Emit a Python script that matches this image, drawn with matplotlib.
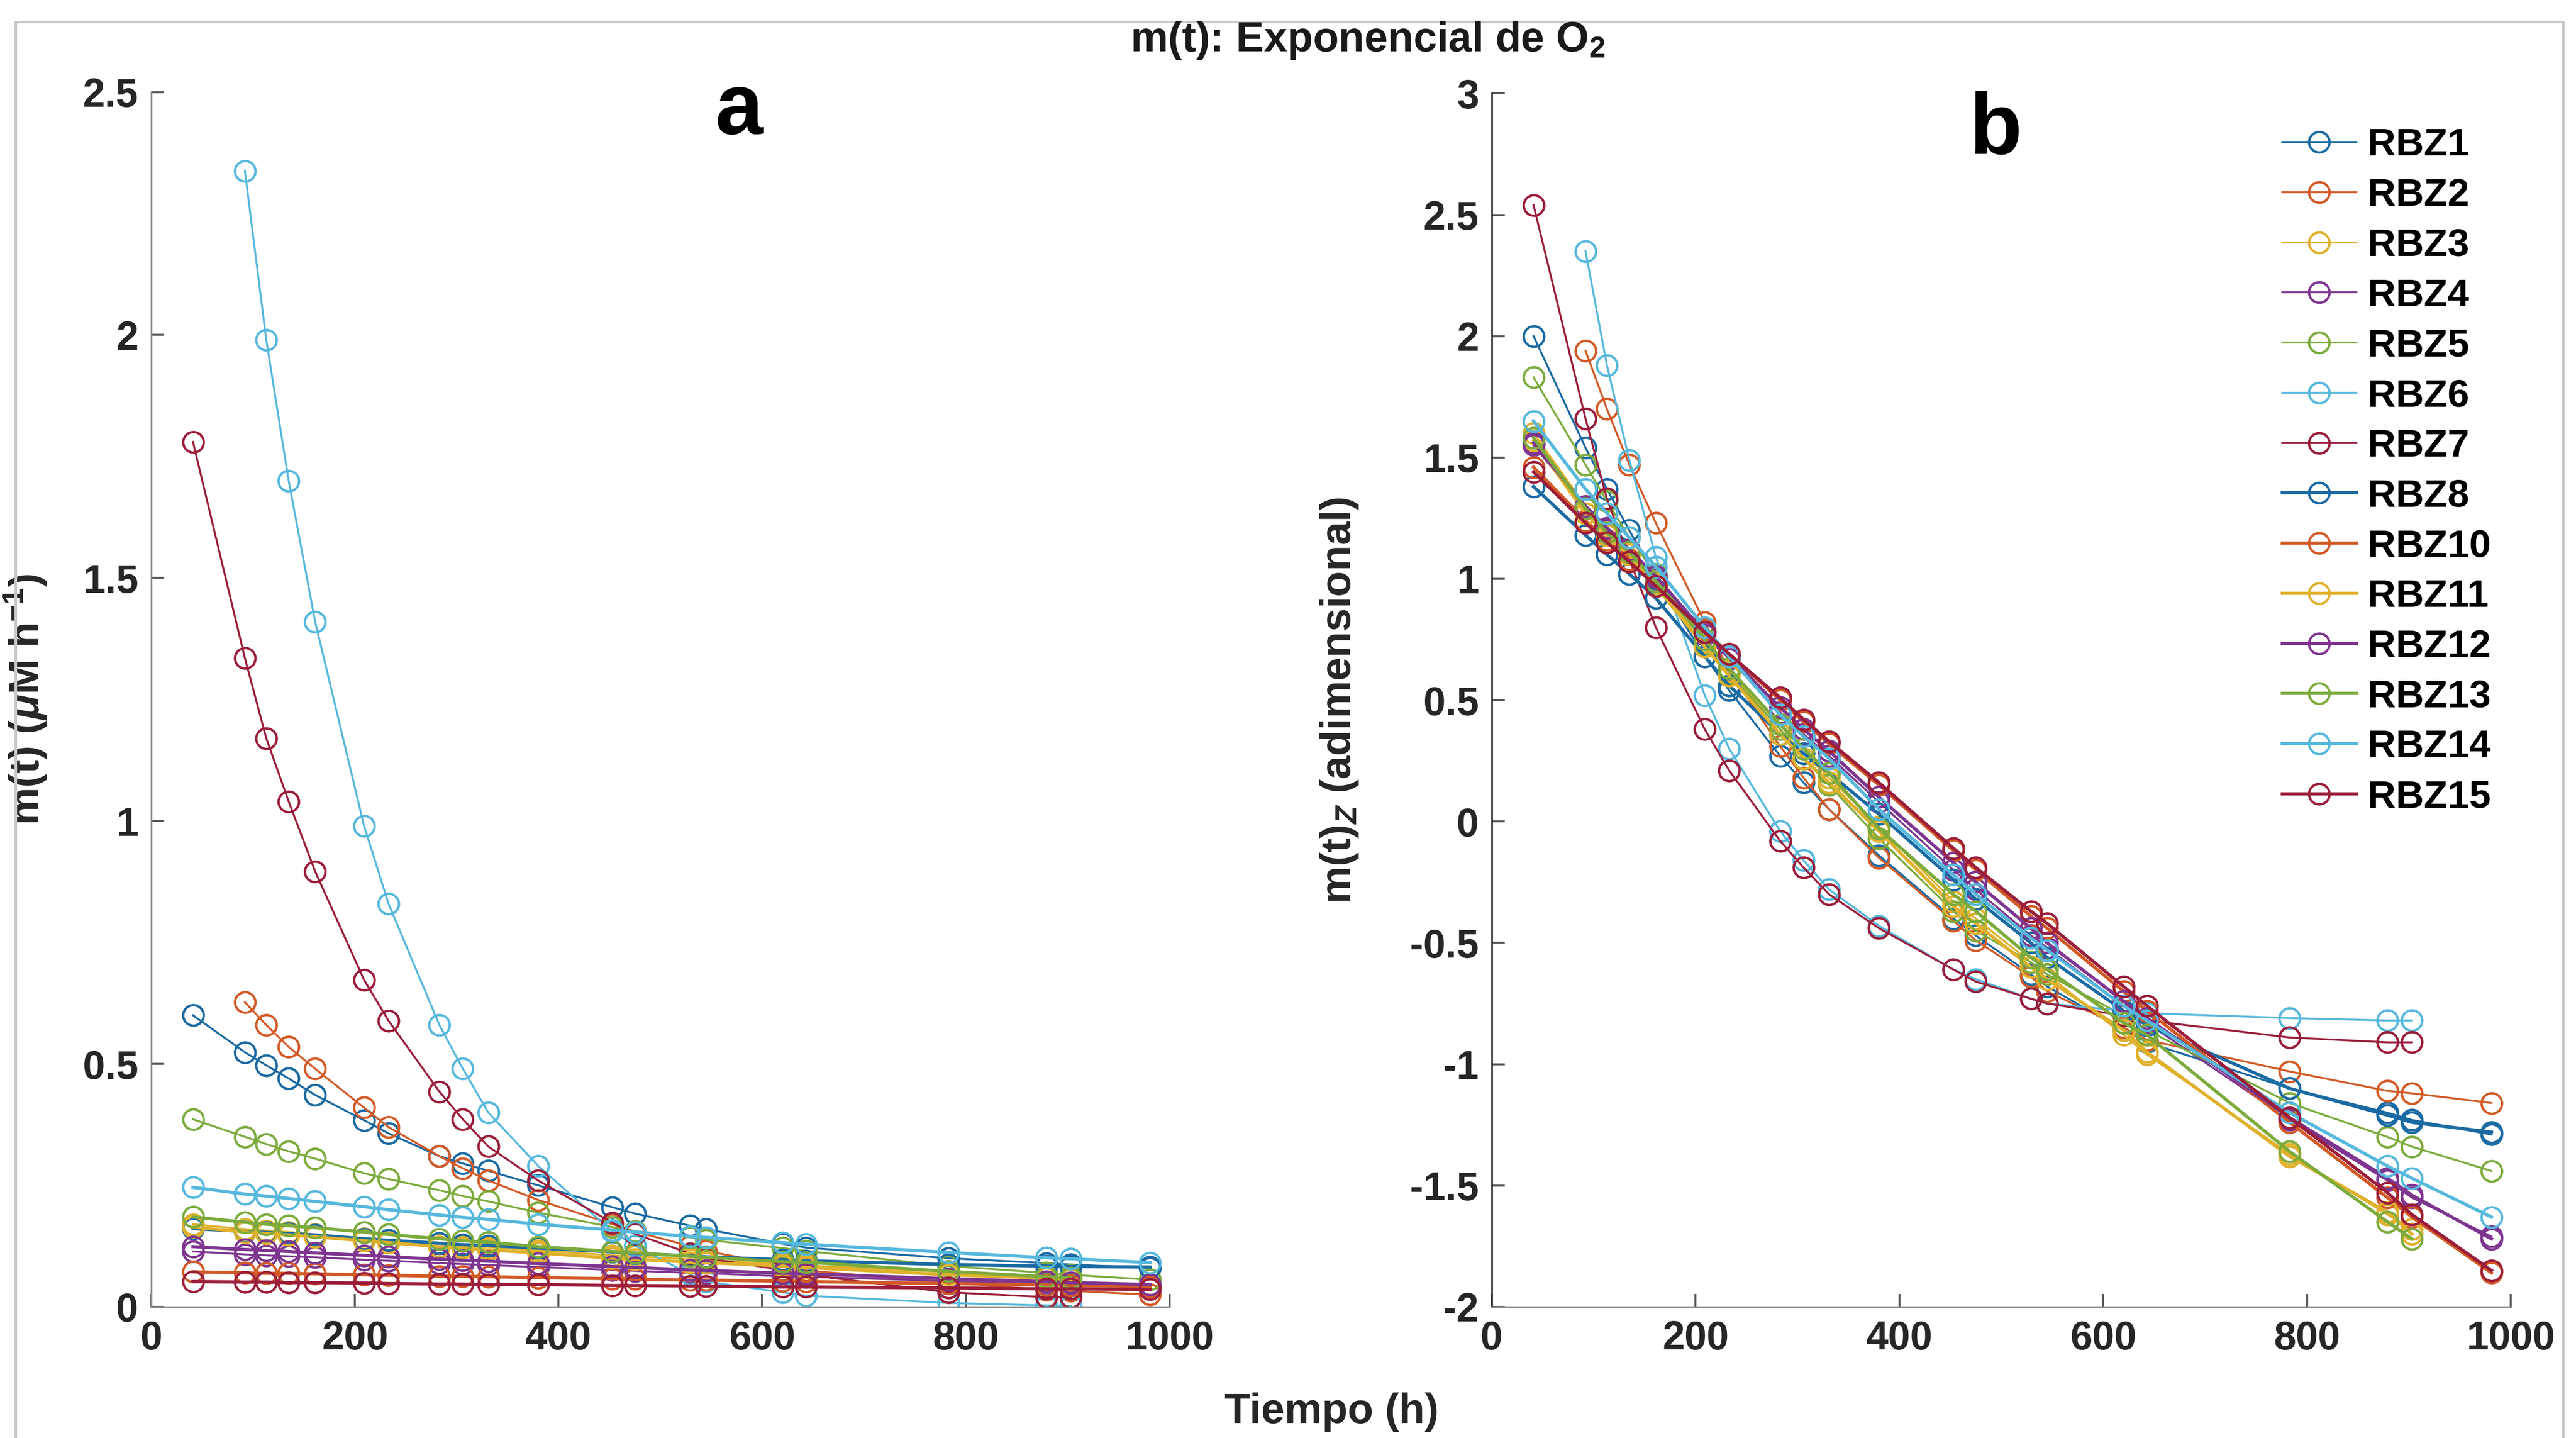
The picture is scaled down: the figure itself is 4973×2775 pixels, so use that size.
import matplotlib
matplotlib.use("Agg")
import matplotlib.pyplot as plt
from matplotlib.patches import Rectangle
from matplotlib.ticker import FuncFormatter

plt.rcParams['font.family'] = ['Liberation Sans', 'DejaVu Sans']
plt.rcParams['mathtext.fontset'] = 'custom'
plt.rcParams['mathtext.rm'] = 'Liberation Sans:bold'
plt.rcParams['mathtext.it'] = 'Liberation Sans:italic:bold'
plt.rcParams['mathtext.bf'] = 'Liberation Sans:bold'

# ---------------- data ----------------
TIME = [41, 92, 113, 135, 161, 209, 233, 283, 306, 331, 380, 453, 475, 529, 545, 620, 643, 783, 879, 903, 981]

T_FULL = TIME
T_FROM92 = TIME[1:]
T_TO903 = TIME[:-1]
T_92_903 = TIME[1:-1]

NAMES = ['RBZ1', 'RBZ2', 'RBZ3', 'RBZ4', 'RBZ5', 'RBZ6', 'RBZ7',
         'RBZ8', 'RBZ10', 'RBZ11', 'RBZ12', 'RBZ13', 'RBZ14', 'RBZ15']

# panel a : m(t) (uM h-1)
RBZ1_a = [0.600, 0.524, 0.497, 0.470, 0.436, 0.384, 0.357, 0.310, 0.295, 0.280, 0.250, 0.205, 0.192, 0.167, 0.160, 0.130, 0.122, 0.100, 0.090, 0.087, 0.080]
RBZ2_a = [0.627, 0.580, 0.535, 0.490, 0.410, 0.370, 0.310, 0.285, 0.260, 0.220, 0.170, 0.155, 0.125, 0.115, 0.085, 0.075, 0.050, 0.035, 0.033, 0.025]
RBZ3_a = [0.170, 0.160, 0.157, 0.154, 0.149, 0.141, 0.137, 0.130, 0.126, 0.123, 0.116, 0.106, 0.104, 0.098, 0.096, 0.088, 0.085, 0.072, 0.064, 0.062]
RBZ4_a = [0.114, 0.108, 0.106, 0.104, 0.102, 0.097, 0.095, 0.090, 0.088, 0.086, 0.082, 0.076, 0.074, 0.070, 0.069, 0.063, 0.062, 0.053, 0.047, 0.046, 0.042]
RBZ5_a = [0.386, 0.350, 0.335, 0.320, 0.305, 0.275, 0.263, 0.240, 0.228, 0.217, 0.194, 0.164, 0.156, 0.143, 0.138, 0.121, 0.115, 0.084, 0.070, 0.066, 0.056]
RBZ6_a = [2.338, 1.990, 1.700, 1.410, 0.990, 0.830, 0.580, 0.490, 0.400, 0.290, 0.155, 0.126, 0.067, 0.052, 0.030, 0.023, 0.008, 0.003, 0.002]
RBZ7_a = [1.780, 1.335, 1.170, 1.040, 0.896, 0.673, 0.589, 0.443, 0.386, 0.330, 0.260, 0.173, 0.150, 0.110, 0.100, 0.076, 0.066, 0.030, 0.020, 0.020]
RBZ8_a = [0.161, 0.155, 0.153, 0.151, 0.148, 0.140, 0.137, 0.131, 0.128, 0.126, 0.121, 0.113, 0.110, 0.105, 0.103, 0.097, 0.095, 0.087, 0.084, 0.083, 0.082]
RBZ10_a = [0.072, 0.070, 0.069, 0.069, 0.068, 0.066, 0.065, 0.063, 0.063, 0.062, 0.060, 0.058, 0.057, 0.055, 0.055, 0.053, 0.052, 0.048, 0.045, 0.044, 0.042]
RBZ11_a = [0.164, 0.154, 0.151, 0.148, 0.144, 0.136, 0.132, 0.124, 0.121, 0.117, 0.111, 0.100, 0.098, 0.092, 0.091, 0.084, 0.081, 0.066, 0.059, 0.056]
RBZ12_a = [0.124, 0.118, 0.116, 0.114, 0.111, 0.106, 0.103, 0.098, 0.096, 0.094, 0.089, 0.083, 0.081, 0.076, 0.075, 0.069, 0.068, 0.058, 0.052, 0.050, 0.046]
RBZ13_a = [0.185, 0.174, 0.170, 0.167, 0.163, 0.154, 0.149, 0.140, 0.136, 0.133, 0.124, 0.114, 0.111, 0.104, 0.102, 0.093, 0.092, 0.073, 0.062, 0.060]
RBZ14_a = [0.246, 0.232, 0.228, 0.223, 0.217, 0.206, 0.200, 0.189, 0.184, 0.180, 0.170, 0.158, 0.154, 0.145, 0.143, 0.132, 0.129, 0.112, 0.101, 0.099, 0.091]
RBZ15_a = [0.052, 0.051, 0.051, 0.050, 0.050, 0.049, 0.048, 0.047, 0.047, 0.046, 0.046, 0.044, 0.044, 0.043, 0.043, 0.041, 0.041, 0.039, 0.037, 0.037, 0.036]

# panel b : m(t)_Z (adimensional)
RBZ1_b = [2.00, 1.54, 1.37, 1.20, 1.00, 0.68, 0.54, 0.27, 0.16, 0.05, -0.14, -0.40, -0.47, -0.63, -0.68, -0.86, -0.91, -1.10, -1.20, -1.23, -1.29]
RBZ2_b = [1.94, 1.70, 1.47, 1.23, 0.82, 0.62, 0.31, 0.18, 0.05, -0.15, -0.41, -0.49, -0.64, -0.70, -0.85, -0.90, -1.03, -1.11, -1.12, -1.16]
RBZ3_b = [1.60, 1.30, 1.20, 1.12, 0.98, 0.74, 0.62, 0.38, 0.28, 0.18, -0.02, -0.33, -0.40, -0.58, -0.63, -0.88, -0.96, -1.37, -1.62, -1.68]
RBZ4_b = [1.55, 1.29, 1.20, 1.11, 1.00, 0.77, 0.67, 0.45, 0.36, 0.27, 0.08, -0.20, -0.28, -0.47, -0.52, -0.76, -0.83, -1.23, -1.48, -1.55, -1.71]
RBZ5_b = [1.83, 1.47, 1.32, 1.17, 1.02, 0.73, 0.61, 0.38, 0.26, 0.15, -0.07, -0.37, -0.45, -0.58, -0.63, -0.80, -0.86, -1.16, -1.30, -1.34, -1.44]
RBZ6_b = [2.35, 1.88, 1.49, 1.09, 0.52, 0.30, -0.04, -0.16, -0.28, -0.43, -0.61, -0.65, -0.73, -0.75, -0.78, -0.79, -0.81, -0.82, -0.82]
RBZ7_b = [2.54, 1.66, 1.33, 1.08, 0.80, 0.38, 0.21, -0.08, -0.19, -0.30, -0.44, -0.61, -0.66, -0.73, -0.75, -0.80, -0.82, -0.89, -0.91, -0.91]
RBZ8_b = [1.38, 1.18, 1.10, 1.02, 0.92, 0.68, 0.56, 0.36, 0.28, 0.20, 0.03, -0.24, -0.32, -0.50, -0.56, -0.78, -0.84, -1.10, -1.21, -1.24, -1.28]
RBZ10_b = [1.46, 1.24, 1.16, 1.08, 0.97, 0.79, 0.69, 0.50, 0.41, 0.32, 0.15, -0.12, -0.20, -0.39, -0.44, -0.70, -0.78, -1.24, -1.55, -1.63, -1.86]
RBZ11_b = [1.57, 1.27, 1.18, 1.10, 0.97, 0.72, 0.60, 0.36, 0.26, 0.16, -0.04, -0.35, -0.42, -0.60, -0.65, -0.86, -0.95, -1.38, -1.61, -1.70]
RBZ12_b = [1.56, 1.30, 1.21, 1.12, 1.01, 0.78, 0.68, 0.47, 0.38, 0.29, 0.10, -0.17, -0.25, -0.44, -0.50, -0.74, -0.81, -1.22, -1.47, -1.54, -1.72]
RBZ13_b = [1.58, 1.29, 1.19, 1.11, 0.99, 0.75, 0.63, 0.40, 0.30, 0.20, -0.03, -0.30, -0.37, -0.56, -0.61, -0.83, -0.88, -1.36, -1.65, -1.72]
RBZ14_b = [1.65, 1.37, 1.27, 1.17, 1.05, 0.80, 0.68, 0.44, 0.35, 0.26, 0.05, -0.22, -0.30, -0.48, -0.53, -0.76, -0.82, -1.20, -1.42, -1.47, -1.63]
RBZ15_b = [1.44, 1.23, 1.15, 1.07, 0.97, 0.78, 0.69, 0.51, 0.42, 0.33, 0.16, -0.11, -0.19, -0.37, -0.42, -0.68, -0.76, -1.22, -1.53, -1.62, -1.85]

SERIES = [
    ('RBZ1', T_FULL, RBZ1_a, RBZ1_b),
    ('RBZ2', T_FROM92, RBZ2_a, RBZ2_b),
    ('RBZ3', T_TO903, RBZ3_a, RBZ3_b),
    ('RBZ4', T_FULL, RBZ4_a, RBZ4_b),
    ('RBZ5', T_FULL, RBZ5_a, RBZ5_b),
    ('RBZ6', T_92_903, RBZ6_a, RBZ6_b),
    ('RBZ7', T_TO903, RBZ7_a, RBZ7_b),
    ('RBZ8', T_FULL, RBZ8_a, RBZ8_b),
    ('RBZ10', T_FULL, RBZ10_a, RBZ10_b),
    ('RBZ11', T_TO903, RBZ11_a, RBZ11_b),
    ('RBZ12', T_FULL, RBZ12_a, RBZ12_b),
    ('RBZ13', T_TO903, RBZ13_a, RBZ13_b),
    ('RBZ14', T_FULL, RBZ14_a, RBZ14_b),
    ('RBZ15', T_FULL, RBZ15_a, RBZ15_b),
]

COLORS = ['#1a6aa3', '#d35a26', '#e0b12c', '#7e3590', '#7cab3c', '#56b8dd', '#9b1d3a']

# ---------------- figure ----------------
fig = plt.figure(figsize=(4973 / 300, 2775 / 300), dpi=300)
fig.patches.append(Rectangle((0.006, -0.02), 0.989, 1.005, transform=fig.transFigure,
                             fill=False, edgecolor='#c8c8c8', linewidth=1.2))

axa = fig.add_axes([0.0587, 0.0912, 0.3953, 0.8448])
axb = fig.add_axes([0.5791, 0.0912, 0.3956, 0.8438])

handles = []
for i, (name, t, va, vb) in enumerate(SERIES):
    c = COLORS[i % 7]
    lw = 0.9 if i < 7 else 1.5
    kw = dict(color=c, linewidth=lw, marker='o', markersize=9.5, markerfacecolor='none',
              markeredgecolor=c, markeredgewidth=1.1)
    axa.plot(t, va, **kw)
    h, = axb.plot(t, vb, label=name, **kw)
    handles.append(h)

fmt = FuncFormatter(lambda v, p: '%g' % v)
for ax in (axa, axb):
    ax.spines['top'].set_visible(False)
    ax.spines['right'].set_visible(False)
    ax.spines['bottom'].set_color('#8c8c8c')
    ax.spines['left'].set_color('#8c8c8c')
    ax.set_xlim(0, 1000)
    ax.set_xticks([0, 200, 400, 600, 800, 1000])
    ax.tick_params(direction='in', length=6, width=0.9, color='#555555', labelsize=18.5, pad=6)
    ax.xaxis.set_major_formatter(fmt)
    ax.yaxis.set_major_formatter(fmt)

axb.spines['left'].set_color('#262626')

axa.set_ylim(0, 2.5)
axa.set_yticks([0, 0.5, 1, 1.5, 2, 2.5])
axb.set_ylim(-2, 3)
axb.set_yticks([-2, -1.5, -1, -0.5, 0, 0.5, 1, 1.5, 2, 2.5, 3])
for ax in (axa, axb):
    for lab in ax.get_xticklabels() + ax.get_yticklabels():
        lab.set_fontweight('bold')
        lab.set_color('#262626')

axa.set_ylabel(r'm(t) ($\mu$M h$^{-1}$)', fontsize=19.5, fontweight='bold', color='#262626')
axa.yaxis.set_label_coords(-0.100, 0.5)
axb.set_ylabel(r'm(t)$_Z$ (adimensional)', fontsize=19.5, fontweight='bold', color='#262626')
axb.yaxis.set_label_coords(-0.129, 0.5)

axa.text(0.577, 0.984, 'a', transform=axa.transAxes, fontsize=40, fontweight='bold',
         ha='center', va='center')
axb.text(0.494, 0.969, 'b', transform=axb.transAxes, fontsize=40, fontweight='bold',
         ha='center', va='center')

fig.text(0.531, 0.972, r'm(t): Exponencial de O$_2$', fontsize=19.5, fontweight='bold',
         ha='center', va='center', color='#1a1a1a')
fig.text(0.517, 0.018, 'Tiempo (h)', fontsize=19.5, fontweight='bold', ha='center',
         va='center', color='#262626')

leg = fig.legend(handles=handles, loc='upper left', bbox_to_anchor=(0.880, 0.922),
                 frameon=False, fontsize=18, handlelength=1.9, labelspacing=0.37,
                 handletextpad=0.3, borderaxespad=0)
for txt in leg.get_texts():
    txt.set_fontweight('bold')

fig.savefig('out.png', dpi=300)
